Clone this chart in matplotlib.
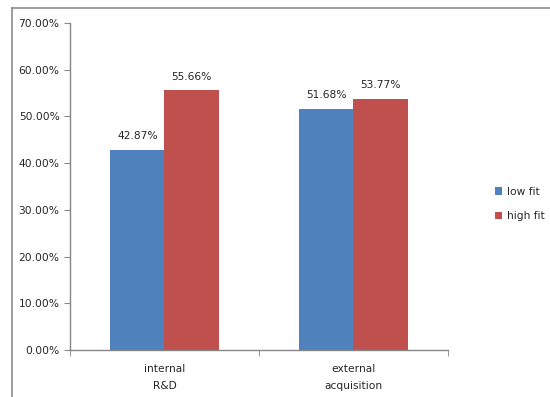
import numpy as np
import matplotlib.pyplot as plt
from matplotlib.lines import Line2D
from matplotlib.ticker import FuncFormatter

plt.rcParams['font.family'] = 'DejaVu Sans'

# share of firms per strategy, split by fit
categories = ["internal\nR&D", "external\nacquisition"]
low_fit = [0.4287, 0.5168]
high_fit = [0.5566, 0.5377]
series_names = ["low fit", "high fit"]
colors = ["#4F81BD", "#C0504D"]

W, H = 550, 397
fig = plt.figure(figsize=(W / 100, H / 100), dpi=100)

# chart frame, only left and top edges fall inside the picture
fig.add_artist(Line2D([12 / W, 12 / W], [0, 1 - 7.5 / H], color="#8c8c8c", lw=1.2))
fig.add_artist(Line2D([12 / W, 1], [1 - 7.5 / H, 1 - 7.5 / H], color="#8c8c8c", lw=1.2))

ax = fig.add_axes([70 / W, 47 / H, 378 / W, 327 / H])

x = np.arange(len(categories))
bw = 0.286
b1 = ax.bar(x - bw / 2, low_fit, bw, color=colors[0], label=series_names[0])
b2 = ax.bar(x + bw / 2, high_fit, bw, color=colors[1], label=series_names[1])

txt = "#262626"
for bars in (b1, b2):
    ax.bar_label(bars, labels=["%.2f%%" % (v * 100) for v in bars.datavalues],
                 padding=6, fontsize=7.7, color=txt)

ax.set_ylim(0, 0.7)
ax.set_xlim(-0.5, 1.5)
ax.set_yticks(np.arange(0, 0.71, 0.1))
ax.yaxis.set_major_formatter(FuncFormatter(lambda v, p: "%.2f%%" % (v * 100)))
ax.set_xticks(x)
ax.set_xticklabels(categories, fontsize=7.7, color=txt, linespacing=1.85)
ax.set_xticks([-0.5, 0.5, 1.5], minor=True)

for s in ("top", "right"):
    ax.spines[s].set_visible(False)
for s in ("left", "bottom"):
    ax.spines[s].set_color("#868686")
    ax.spines[s].set_linewidth(1.0)

ax.tick_params(axis="y", labelsize=7.7, labelcolor=txt, color="#868686", length=4, pad=3.5)
ax.tick_params(axis="x", which="major", length=0, pad=10)
ax.tick_params(axis="x", which="minor", length=4, color="#868686")

fig.legend(handles=[b1, b2], loc="center left", bbox_to_anchor=(485 / W, 1 - 204 / H),
           frameon=False, fontsize=7.7, handlelength=0.7, handleheight=0.7,
           handletextpad=0.5, labelspacing=1.4, labelcolor=txt)

fig.savefig("out.png", dpi=100)
